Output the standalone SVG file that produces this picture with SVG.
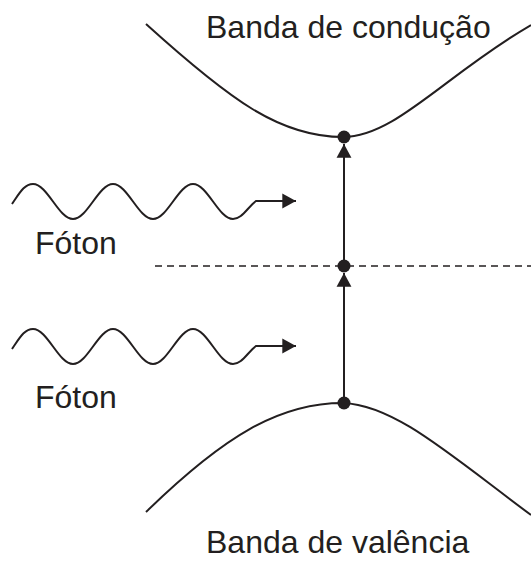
<svg xmlns="http://www.w3.org/2000/svg" width="531" height="561" viewBox="0 0 531 561">
<style>
.band{fill:none;stroke:#231f20;stroke-width:2}
.wave{fill:none;stroke:#231f20;stroke-width:2}
.cn{fill:none;stroke:#231f20;stroke-width:2}
.dash{fill:none;stroke:#231f20;stroke-width:1.5;stroke-dasharray:7 5}
.dot{fill:#231f20}
text{font-family:"Liberation Sans",Arial,sans-serif;font-size:32px;fill:#231f20}
</style>
<defs>
<marker id="ah" markerUnits="userSpaceOnUse" markerWidth="16" markerHeight="16" viewBox="-13 -7 14 14" refX="0" refY="0" orient="auto">
<path d="M0,0 L-12,-6.5 L-12,6.5 Z" fill="#231f20"/>
</marker>
<path id="wv" d="M12,204 C19,194 24,184 33,184 C47.5,184 58.5,219 73,219 C87.5,219 98.5,184 113,184 C127.5,184 138.5,219 153,219 C167.5,219 178.5,184 193,184 C207.5,184 218.5,219 233,219 C242,219 247,208 256,201 L296,201"/>
</defs>
<g id="conduction-band">
<path class="band" d="M146,24 C230,100 280,137 343,137 C395,137 445,75 531,25"/>
<text x="206" y="38">Banda de condução</text>
</g>
<g id="valence-band">
<path class="band" d="M146,512 C225,435 280,403 343,403 C395,405 450,455 531,515"/>
<text x="206" y="553">Banda de valência</text>
</g>
<g id="mid-level">
<path class="dash" d="M155,266 L531,266"/>
</g>
<g id="photon1">
<use href="#wv" class="wave" marker-end="url(#ah)"/>
<text x="35" y="254">Fóton</text>
</g>
<g id="photon2">
<use href="#wv" class="wave" transform="translate(0,145)" marker-end="url(#ah)"/>
<text x="35" y="408">Fóton</text>
</g>
<g id="connectors">
<path class="cn" d="M344,403 L344,273" marker-end="url(#ah)"/>
<path class="cn" d="M344,266 L344,144" marker-end="url(#ah)"/>
</g>
<g id="dots">
<circle class="dot" cx="344" cy="137" r="6.5"/>
<circle class="dot" cx="344" cy="266" r="6.5"/>
<circle class="dot" cx="344" cy="403" r="6.5"/>
</g>
</svg>
